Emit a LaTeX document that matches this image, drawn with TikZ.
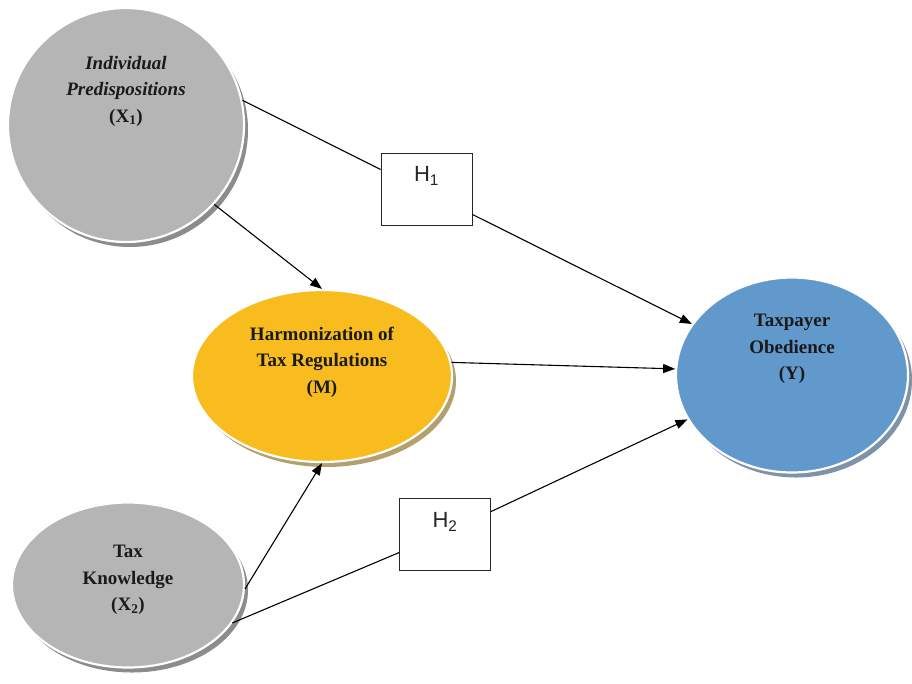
\documentclass[tikz,border=0pt]{standalone}
\usepackage{fontspec}
\setmainfont{Liberation Serif}
\newfontfamily\arialfont{Liberation Sans}
\usetikzlibrary{shapes.geometric,arrows.meta}
\definecolor{greyfill}{HTML}{B5B5B5}
\definecolor{greyshadow}{HTML}{8C8C8C}
\definecolor{orangefill}{HTML}{F8BC1F}
\definecolor{orangeshadow}{HTML}{B3A06E}
\definecolor{bluefill}{HTML}{6299CC}
\definecolor{blueshadow}{HTML}{7E93AA}
\definecolor{textdark}{HTML}{1A1A1A}
\tikzset{
  blob/.style={ellipse, inner sep=0pt, draw=white, line width=2.2pt},
  blobshadow/.style={ellipse, inner sep=0pt, draw=none},
  lbl/.style={align=center, font=\fontsize{19}{26.5}\selectfont\bfseries, text=textdark},
  hbox/.style={draw=black!85, line width=0.9pt, fill=white, minimum width=91pt, minimum height=72pt, inner sep=0pt},
  htext/.style={font=\arialfont\fontsize{22}{24}\selectfont, text=black!85},
  link/.style={draw=black, line width=1.1pt},
  arr/.style={link, -{Triangle[length=12pt,width=9pt]}},
}
\begin{document}
\begin{tikzpicture}[x=1pt,y=-1pt]
\useasboundingbox (0,0) rectangle (912,683);
% shadows
\node[blobshadow, fill=greyshadow, minimum width=236pt, minimum height=234pt] at (130,130) {};
\node[blobshadow, fill=orangeshadow, minimum width=260pt, minimum height=172pt] at (326,381) {};
\node[blobshadow, fill=blueshadow, minimum width=232pt, minimum height=195pt] at (796,380) {};
\node[blobshadow, fill=greyshadow, minimum width=232pt, minimum height=165pt] at (132,590) {};
% ellipses
\node[blob, fill=greyfill, minimum width=236pt, minimum height=234pt] (X1) at (126,125) {};
\node[blob, fill=orangefill, minimum width=260pt, minimum height=172pt] (M) at (322,376) {};
\node[blob, fill=bluefill, minimum width=232pt, minimum height=195pt] (Y) at (792,375) {};
\node[blob, fill=greyfill, minimum width=232pt, minimum height=165pt] (X2) at (128,585) {};
% labels
\node[lbl] (X1t) at (126,91) {\itshape Individual\\\itshape Predispositions\\(X\textsubscript{1})};
\node[lbl] (Mt) at (322,362) {Harmonization of\\Tax Regulations\\(M)};
\node[lbl] (Yt) at (792,349) {Taxpayer\\Obedience\\(Y)};
\node[lbl] (X2t) at (128,580) {Tax\\Knowledge\\(X\textsubscript{2})};
% hypothesis boxes
\node[hbox] (H1) at (426.5,189) {};
\node[hbox] (H2) at (445,534) {};
\node[htext] (H1t) at (426.5,176) {H\textsubscript{1}};
\node[htext] (H2t) at (445,522) {H\textsubscript{2}};
% connectors
\draw[link] (X1.12) -- (H1.157);
\draw[arr] (H1.-29.5) -- (Y.153.9);
\draw[arr] (X1.-42.6) -- (M.north);
\draw[arr] (M.6.6) -- (Y.177.5);
\draw[arr] (X2.-2.5) -- (M.south);
\draw[link] (X2.-20.9) -- (H2.202.4);
\draw[arr] (H2.26.6) -- (Y.203.3);
\end{tikzpicture}
\end{document}
